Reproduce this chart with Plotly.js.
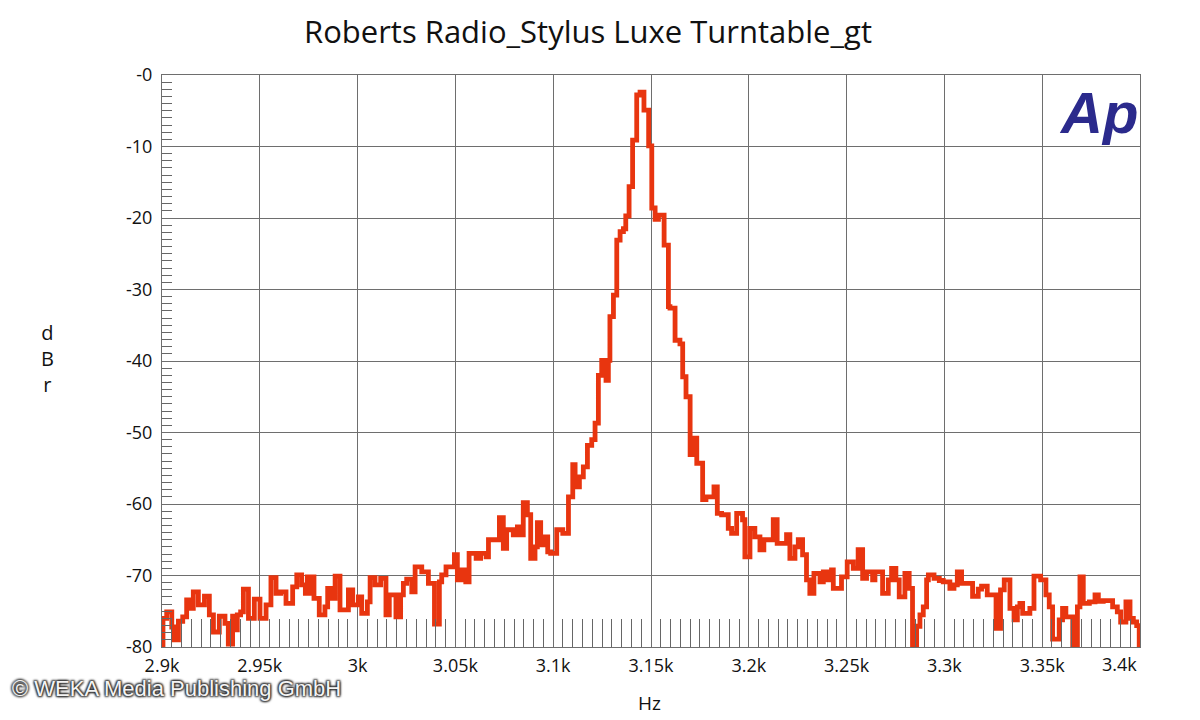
<!DOCTYPE html>
<html>
<head>
<meta charset="utf-8">
<script src="https://cdn.plot.ly/plotly-3.0.1.min.js"></script>
<style>html,body{margin:0;padding:0;background:#fff;}#chart{width:1200px;height:720px;}</style>
</head>
<body>
<div id="chart"></div>
<script>
const freqHz = [2900,2900.5,2902.4,2905,2906.2,2908.4,2910.6,2912.6,2914.7,2916,2918.6,2921.7,2924.2,2926.3,2929.3,2932.2,2933.9,2936.1,2937.3,2938.5,2940.2,2941.6,2944.2,2947.2,2950.1,2953.2,2955.7,2958.3,2960.7,2963.4,2966.8,2968.9,2971.4,2973.3,2974.3,2975.3,2976.5,2977.7,2980.4,2983.3,2984.7,2986.8,2988.5,2991,2995.3,2997.5,3000.4,3002.1,3005,3006.4,3008.9,3011.8,3014.5,3016.2,3019.6,3022,3023.4,3025.1,3027.7,3029.4,3032.8,3036.2,3039.3,3041.8,3043,3045.2,3049.5,3051,3053.2,3055.3,3057,3060.6,3062.9,3065.7,3066.9,3072.5,3074.5,3076.2,3079.6,3081.7,3083.4,3084.7,3086.8,3088.5,3090.7,3091.9,3093.6,3095,3097.2,3098.7,3101.8,3104.9,3107.8,3110,3111.2,3113.4,3115.4,3117.5,3119.7,3121.4,3123.1,3124.8,3127,3128.2,3129,3130.8,3132.5,3134.2,3135.9,3137.1,3138.8,3140.6,3142.7,3144.4,3146.4,3148.8,3150.4,3152.1,3153.8,3156.7,3158.9,3159.7,3162.3,3164.8,3166.2,3167.9,3170,3171.7,3173.4,3176.4,3178.1,3182.2,3183.9,3186.1,3189.5,3191.2,3193.8,3196.8,3198,3200.6,3203.1,3205.7,3207.7,3212.5,3214.5,3219.3,3221,3223.6,3225.3,3227.5,3229.5,3231.2,3233.3,3236.4,3238.1,3240.1,3242.3,3243.2,3247.4,3250.3,3253.4,3255.9,3258.2,3260.2,3263.3,3264.5,3268.4,3271.3,3273,3275.2,3276.9,3279.8,3282,3283.7,3285.8,3287.5,3289.2,3290.9,3291.8,3294.7,3297.4,3299.4,3302.8,3304.9,3306.6,3308.8,3314.4,3317.3,3319,3321.9,3326.4,3328.7,3330.6,3333.5,3335.6,3337.3,3338.6,3340,3343.7,3345.8,3349.2,3351.9,3353.6,3355.3,3358.7,3360.4,3362.1,3365.6,3368,3369.3,3371,3374.1,3377,3378.7,3381.2,3386,3388.4,3390.1,3392.8,3394.9,3396.6,3398.3,3399.6,3400];
const levelDBr = [-80,-76.0,-75.1,-77.2,-79.0,-76.4,-75.8,-73.4,-74.6,-72.3,-74.1,-72.9,-75.5,-77.9,-75.7,-76.7,-79.6,-75.7,-77.6,-75.5,-75.1,-71.9,-76.0,-73.3,-76.0,-74.1,-70.3,-72.5,-72.3,-73.9,-71.6,-69.9,-71.3,-72.5,-70.2,-72.5,-70.2,-73.2,-75.5,-74.4,-71.8,-73.2,-70.1,-74.8,-72.0,-74.1,-73.0,-75.3,-73.7,-70.3,-71.3,-70.4,-75.5,-72.7,-75.8,-72.7,-71.1,-70.5,-72.3,-68.8,-69.5,-71.1,-76.8,-70.9,-69.9,-68.8,-67.1,-70.6,-69.2,-70.9,-66.9,-67.6,-66.9,-67.4,-65.0,-61.9,-66.2,-63.6,-64.3,-63.2,-64.3,-59.8,-61.5,-67.6,-66.0,-62.6,-65.7,-64.6,-66.7,-66.9,-63.6,-64.1,-59.0,-54.5,-57.6,-56.2,-54.8,-51.8,-51.0,-48.7,-42.0,-39.9,-42.7,-39.9,-33.8,-30.8,-23.1,-21.9,-21.5,-19.7,-15.6,-9.1,-2.8,-2.4,-4.9,-9.9,-18.6,-20.2,-19.6,-23.8,-32.4,-32.6,-37.1,-37.6,-42.2,-45.0,-53.1,-50.8,-54.3,-59.4,-59.0,-57.6,-61.3,-61.5,-63.4,-64.1,-61.3,-62.2,-67.4,-63.4,-64.6,-66.4,-65.0,-62.2,-65.5,-64.3,-67.6,-66.0,-65.0,-67.1,-70.6,-72.5,-69.7,-70.9,-69.5,-70.6,-69.2,-71.8,-70.2,-68.1,-69.0,-66.4,-70.4,-69.5,-70.6,-69.5,-72.5,-70.6,-69.0,-70.6,-73.0,-69.7,-71.8,-80.0,-77.1,-75.5,-74.4,-70.6,-69.9,-70.4,-70.7,-70.9,-71.8,-71.3,-69.5,-71.1,-72.9,-71.9,-71.5,-72.7,-77.4,-72.0,-70.6,-74.6,-76.2,-74.4,-73.9,-75.3,-74.6,-70.1,-70.6,-72.7,-74.4,-78.9,-76.2,-74.6,-75.8,-80.0,-74.4,-70.2,-73.9,-73.7,-72.7,-73.6,-73.5,-74.4,-75.1,-76.5,-73.7,-76.0,-76.5,-77.0,-80.0,-80.0];

const xTickVals = [2900,2950,3000,3050,3100,3150,3200,3250,3300,3350,3400];
const xTickText = ['2.9k','2.95k','3k','3.05k','3.1k','3.15k','3.2k','3.25k','3.3k','3.35k','3.4k'];
const yTickVals = [0,-10,-20,-30,-40,-50,-60,-70,-80];
const yTickText = ['-0','-10','-20','-30','-40','-50','-60','-70','-80'];

const chartTitle = 'Roberts Radio_Stylus Luxe Turntable_gt';
const xTitle = 'Hz';
const yTitle = 'd<br>B<br>r';
const copyright = '© WEKA Media Publishing GmbH';

const gridCol = '#6e6e6e';
const tickFont = {family: 'Open Sans, Lato, sans-serif', size: 18, color: '#111'};

// last x label is drawn shifted inward like the reference
const xTickShown = xTickText.map((t, i) => i === xTickText.length - 1 ? '' : t);

const trace = {
  x: freqHz, y: levelDBr, type: 'scatter', mode: 'lines',
  line: {color: '#e8350f', width: 4.8, shape: 'hv'},
  hoverinfo: 'skip'
};

const layout = {
  width: 1200, height: 720,
  margin: {l: 162, r: 60, t: 75, b: 73},
  paper_bgcolor: '#fff', plot_bgcolor: '#fff',
  showlegend: false,
  title: {text: chartTitle, x: 0.49, xanchor: 'center', y: 0.955, yanchor: 'middle',
          font: {family: 'Open Sans, sans-serif', size: 31, color: '#111'}},
  xaxis: {
    range: [2900, 3400], tickmode: 'array', tickvals: xTickVals, ticktext: xTickShown,
    showgrid: true, gridcolor: gridCol, gridwidth: 1,
    showline: true, linecolor: gridCol, linewidth: 1, mirror: true,
    ticks: 'inside', ticklen: 28, tickcolor: gridCol, tickwidth: 1,
    minor: {dtick: 5, ticks: 'inside', ticklen: 28, tickcolor: '#666', tickwidth: 1, showgrid: false},
    tickfont: tickFont, zeroline: false, ticklabelstandoff: 2
  },
  yaxis: {
    range: [-80, 0], tickmode: 'array', tickvals: yTickVals, ticktext: yTickText,
    showgrid: true, gridcolor: gridCol, gridwidth: 1,
    showline: true, linecolor: gridCol, linewidth: 1, mirror: true,
    ticks: 'inside', ticklen: 10, tickcolor: gridCol, tickwidth: 1,
    minor: {dtick: 1, ticks: 'inside', ticklen: 10, tickcolor: '#666', tickwidth: 1, showgrid: false},
    tickfont: tickFont, zeroline: false, ticklabelstandoff: 5
  },
  annotations: [
    {text: xTickText[xTickText.length - 1], xref: 'x', yref: 'paper', x: xTickVals[xTickVals.length - 1], y: 0,
     xanchor: 'center', yanchor: 'top', xshift: -21, yshift: -3, showarrow: false, font: tickFont},
    {text: xTitle, xref: 'paper', yref: 'paper', x: 0.498, y: -0.098, xanchor: 'center', yanchor: 'middle',
     showarrow: false, font: {family: 'Open Sans, sans-serif', size: 19, color: '#111'}},
    {text: yTitle, xref: 'paper', yref: 'paper', x: -0.117, y: 0.505, xanchor: 'center', yanchor: 'middle',
     showarrow: false, font: {family: 'Open Sans, sans-serif', size: 20, color: '#111'}},
    {text: '<b><i>Ap</i></b>', xref: 'paper', yref: 'paper', x: 1.0, y: 0.995, xanchor: 'right', yanchor: 'top',
     showarrow: false, font: {family: 'Liberation Sans, Arial, sans-serif', size: 58, color: '#2b2a8c'}},
    {text: copyright, xref: 'paper', yref: 'paper', x: -0.155, y: -0.073, xanchor: 'left', yanchor: 'middle',
     showarrow: false, font: {family: 'Liberation Sans, Arial, sans-serif', size: 22, color: '#f4f4f4',
       shadow: '1px 1px 2px #333, -1px -1px 2px #333, 1px -1px 2px #333, -1px 1px 2px #333'}}
  ]
};

Plotly.newPlot('chart', [trace], layout, {staticPlot: true, displayModeBar: false});
</script>
</body>
</html>
